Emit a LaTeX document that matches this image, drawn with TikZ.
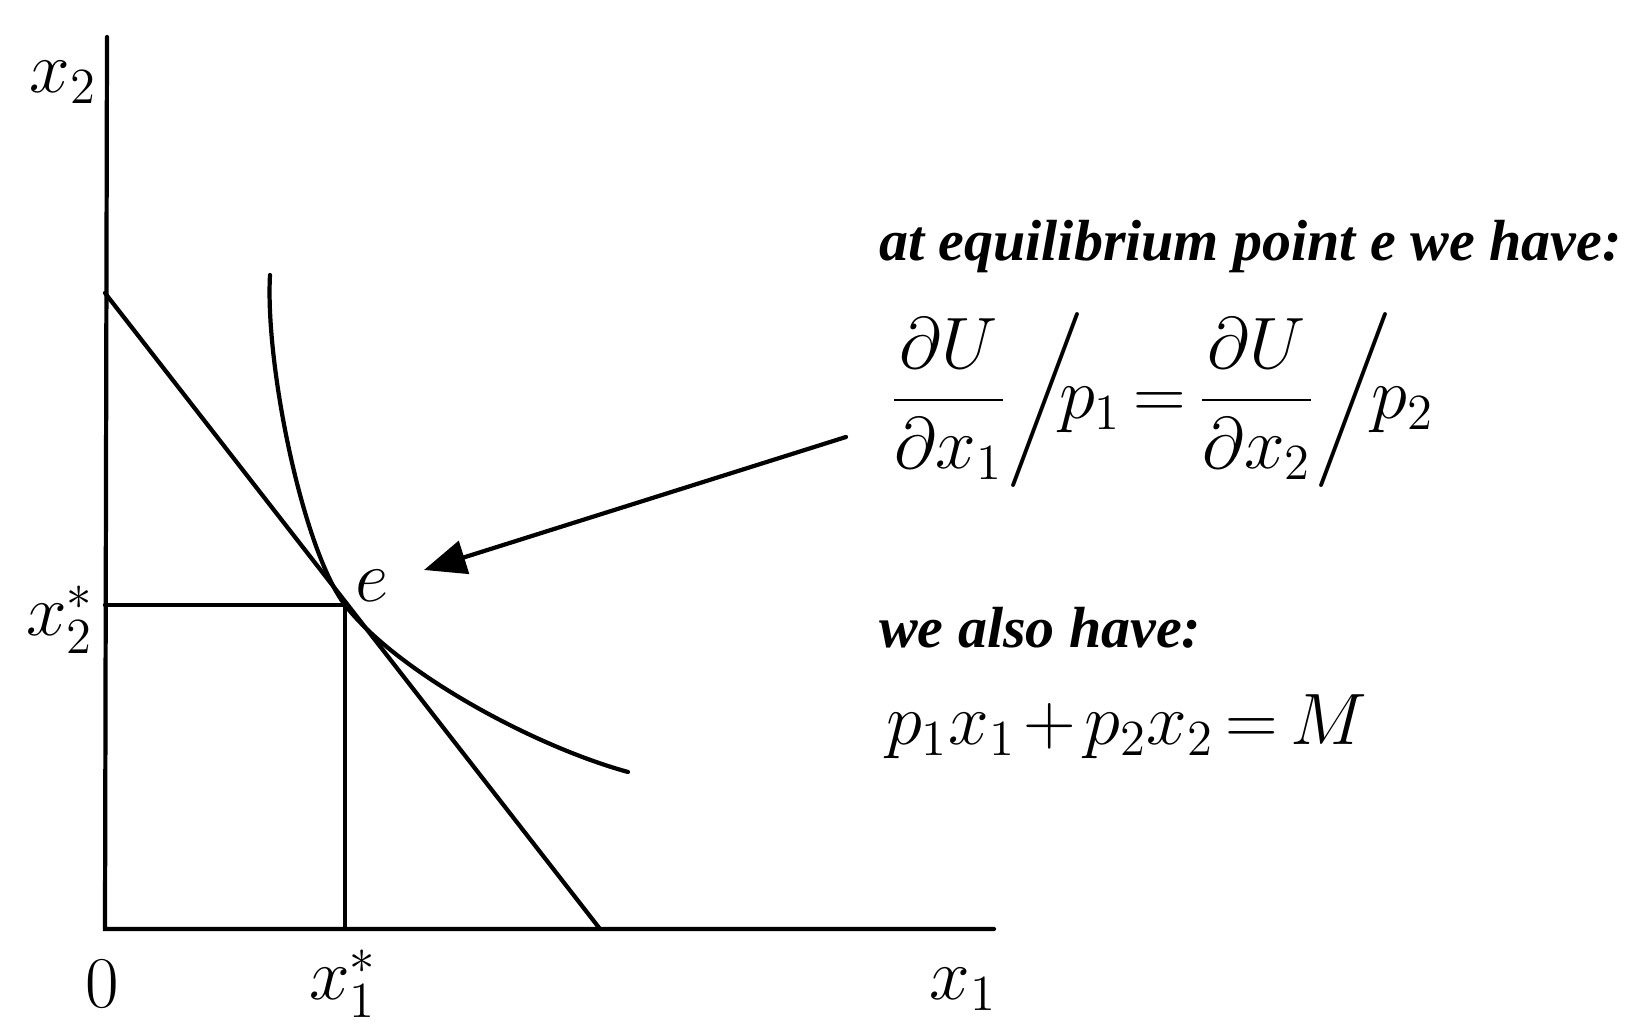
\documentclass[tikz,border=0pt]{standalone}
\usepackage{amsmath}
\usepackage{fontspec}
\setmainfont{Liberation Serif}
\usetikzlibrary{arrows.meta}
\newcommand{\fracslash}[1]{\mathord{\left/\vphantom{#1}\right.\kern-\nulldelimiterspace}}
\newcommand{\tightmu}{\medmuskip=2mu\relax\thickmuskip=3mu\relax}
\tikzset{
  axlab/.style={inner sep=0pt,font=\fontsize{22}{26}\selectfont},
  txt/.style={anchor=west,inner sep=0pt,font=\fontsize{16.5}{19}\selectfont\bfseries\itshape},
  eqn/.style={anchor=west,inner sep=0pt,font=\fontsize{20}{24}\selectfont}
}
\begin{document}
\begin{tikzpicture}[line width=1.2pt,line cap=round]
\useasboundingbox (0,0) rectangle (16.41,10.25);
% axes and budget line
\coordinate (O) at (1.05,0.96);
\coordinate (xend) at (9.94,0.96);
\coordinate (ytop) at (1.07,9.88);
\coordinate (b1) at (1.05,7.32);
\coordinate (b2) at (6.00,0.96);
\coordinate (E) at (3.45,4.20);
\draw (ytop) -- (O) -- (xend);
\draw (b1) -- (b2);
\draw (E -| O) -- (E) -- (E |- O);
% indifference curve
\coordinate (icA) at (2.70,7.50);
\coordinate (icB) at (6.28,2.53);
\draw (icA) .. controls (2.65,6.6) and (3.03,4.75) .. (E)
      .. controls (3.95,3.55) and (5.3,2.80) .. (icB);
% labels
\foreach \nm/\pos/\lab in {x2lab/{0.63,9.43}/{x_2},x2s/{0.60,4.05}/{x_2^{*}},
  zero/{1.02,0.41}/{0},x1s/{3.43,0.41}/{x_1^{*}},x1lab/{9.63,0.36}/{x_1}}{
  \node[axlab] (\nm) at (\pos) {$\lab$};
}
\node[axlab] (elab) at (3.72,4.39) {$e$};
% text on the right
\node[txt] (head) at (8.77,7.78) {at equilibrium point e we have:};
\node[eqn] (mrs) at (8.88,6.25)
  {$\tightmu\dfrac{\partial U}{\partial x_1}\fracslash{\dfrac{\partial U}{\partial x_1}}\mkern-6mu p_1
    = \dfrac{\partial U}{\partial x_2}\fracslash{\dfrac{\partial U}{\partial x_2}}\mkern-5mu p_2$};
\node[txt] (also) at (8.77,3.97) {we also have:};
\node[eqn] (bud) at (8.84,2.98) {$\tightmu p_1 x_1 + p_2 x_2 = M$};
\coordinate (tail) at (8.46,5.88);
\coordinate (tip) at (4.24,4.55);
\draw[-{Triangle[length=0.42cm,width=0.34cm]}] (tail) -- (tip);
\end{tikzpicture}
\end{document}
